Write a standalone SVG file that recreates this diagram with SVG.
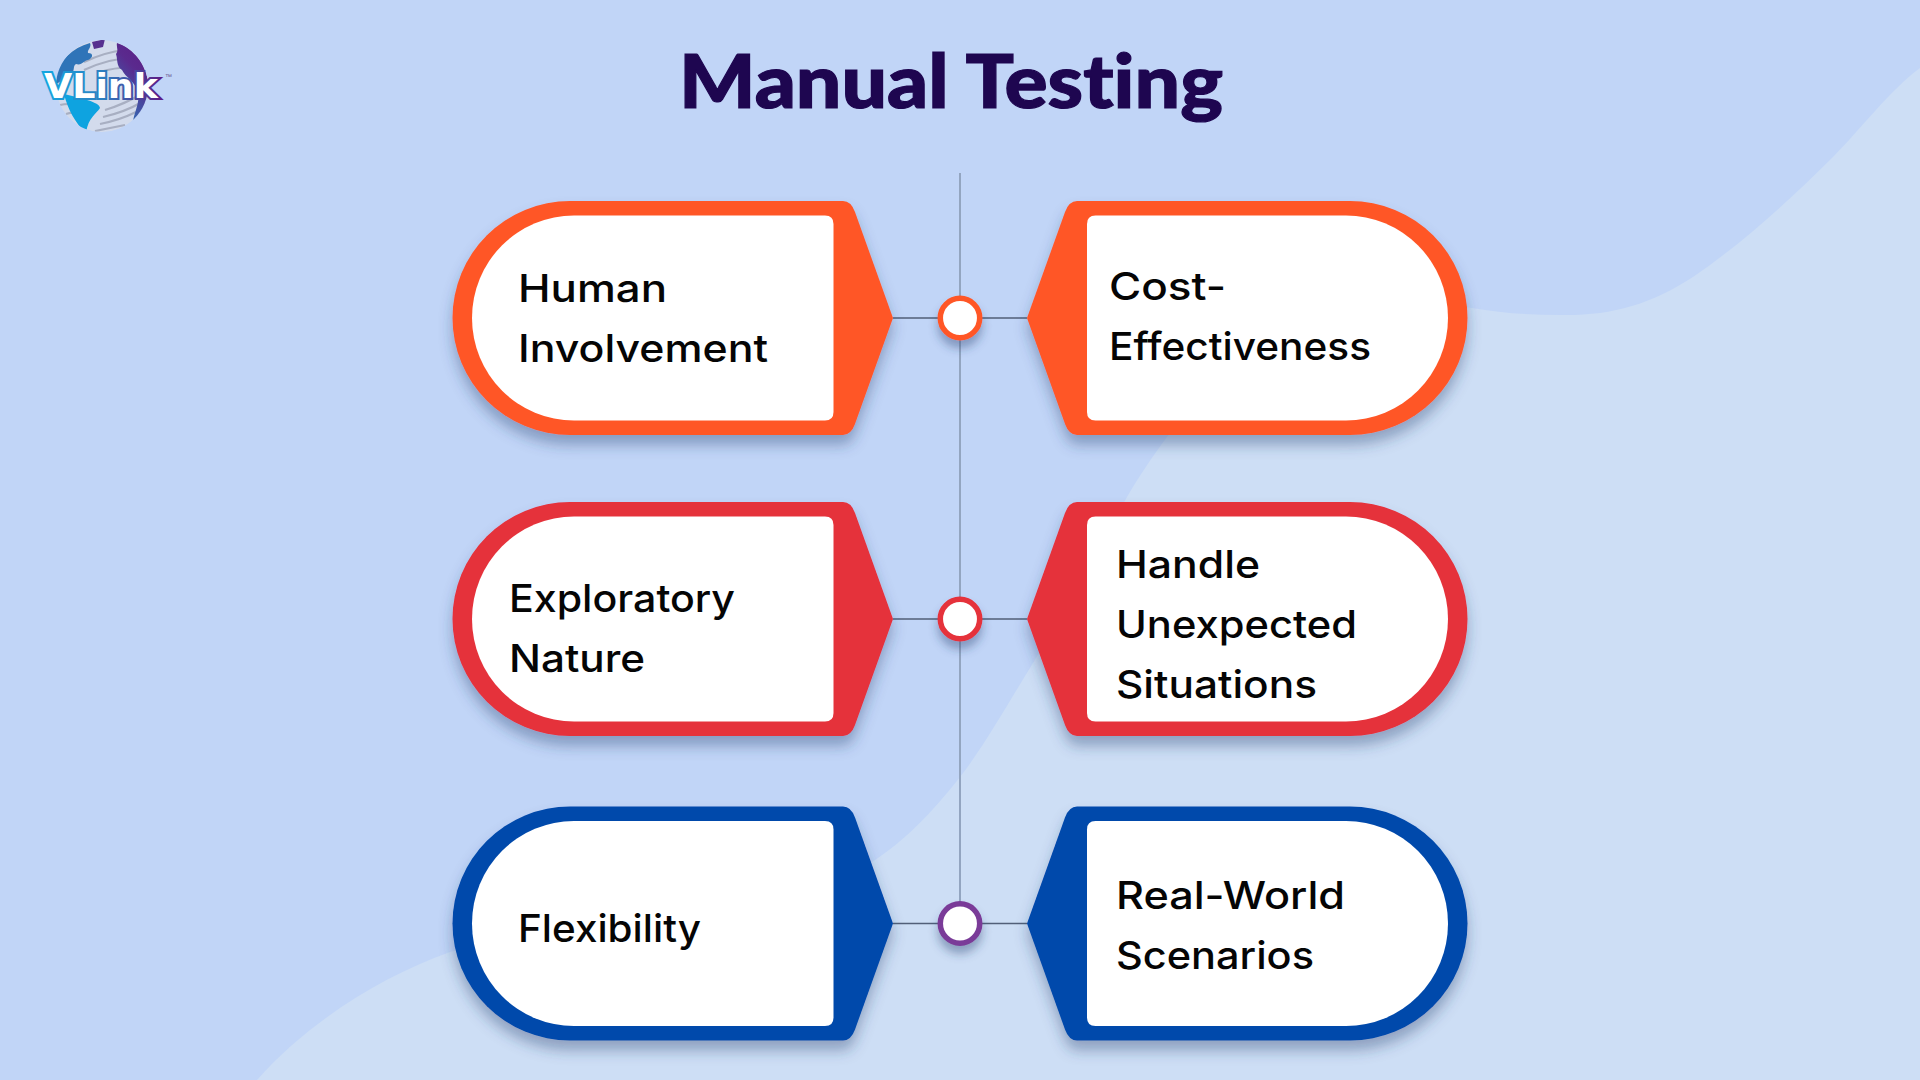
<svg xmlns="http://www.w3.org/2000/svg" width="1920" height="1080" viewBox="0 0 1920 1080">
<style>
.lbl{font-family:"Inter","Noto Sans","Liberation Sans",sans-serif;font-size:38.5px;font-weight:450;fill:#050505}
.title{font-family:"Lato","Liberation Sans",sans-serif;font-size:75px;font-weight:900;fill:#1e0650;stroke:#1e0650;stroke-width:1.2;font-variant-ligatures:none}
.orange{fill:#ff5725}.red{fill:#e5303a}.blue{fill:#0048ab}
.inner{fill:#fff}
.vline{stroke:#93a5c0;stroke-width:2;fill:none}
.hline{stroke:#525f78;stroke-width:1.5;fill:none}
.dot{fill:#fff;stroke-width:5.500}
</style>
<defs>
<filter id="sh" x="-20%" y="-20%" width="140%" height="150%"><feDropShadow dx="0" dy="10" stdDeviation="7" flood-color="#2a3f6e" flood-opacity="0.38"/></filter>
<filter id="shd" x="-60%" y="-60%" width="220%" height="240%"><feDropShadow dx="0" dy="8" stdDeviation="5" flood-color="#2a3f6e" flood-opacity="0.4"/></filter>
<path id="lo" d="M570 -117H843Q851 -117 855 -106L893 0L855 106Q851 117 843 117H570A117.500 117 0 0 1 570 -117Z"/>
<path id="li" d="M574 -102.500H825Q833.500 -102.500 833.500 -94V94Q833.500 102.500 825 102.500H574A102 102.500 0 0 1 574 -102.500Z"/>
<path id="ro" d="M1350 -117H1077Q1069 -117 1065 -106L1027 0L1065 106Q1069 117 1077 117H1350A117.500 117 0 0 0 1350 -117Z"/>
<path id="ri" d="M1346 -102.500H1095.500Q1087 -102.500 1087 -94V94Q1087 102.500 1095.500 102.500H1346A102 102.500 0 0 0 1346 -102.500Z"/>
<linearGradient id="gl" gradientUnits="userSpaceOnUse" x1="60" y1="130" x2="150" y2="50"><stop offset="0" stop-color="#00aee8"/><stop offset="0.45" stop-color="#2f74b8"/><stop offset="0.8" stop-color="#5a2a8e"/><stop offset="1" stop-color="#5c1f86"/></linearGradient>
<linearGradient id="gs" gradientUnits="userSpaceOnUse" x1="44" y1="0" x2="160" y2="0"><stop offset="0" stop-color="#14a6e0"/><stop offset="0.5" stop-color="#2d7fc0"/><stop offset="1" stop-color="#5c1f86"/></linearGradient>
<clipPath id="globe"><circle cx="102" cy="86" r="46"/></clipPath>
</defs>
<rect width="1920" height="1080" fill="#c1d5f7"/>
<path d="M1920 68C1890 90 1860 130 1833 157C1790 200 1740 245 1693 277C1650 305 1610 316 1560 315C1530 315 1500 313 1472 308C1370 295 1240 340 1167 437C1150 460 1140 475 1127 497C1095 555 1065 610 1033 663C1010 700 985 745 960 777C930 815 905 840 875 860C790 920 620 905 450 952C385 975 310 1020 257 1080H1920Z" fill="#cddef5"/>
<g id="logo">
<g clip-path="url(#globe)">
<circle cx="102" cy="86" r="46" fill="#d3dbec"/>
<path d="M84 62Q105 52 125 50M84 70Q110 58 133 58M100 72Q120 66 138 68M105 110Q125 104 145 92M103 117Q125 112 142 102M100 124Q120 120 136 112M95 131Q110 128 125 125M60 105Q68 103 78 105M66 114Q72 112 80 113" fill="none" stroke="#a8afc2" stroke-width="2.200"/>
<path d="M56 76C60 60 72 48 90 43C92 47 87 50 88 53C94 53 93 58 88 60C84 60 82 66 76 64C72 66 76 72 70 74C66 78 60 82 56 84Z" fill="#2f74b8"/>
<path d="M92 42L105 39L103 47L94 49Z" fill="#57308f"/>
<path d="M117 43C132 48 146 62 149 86C150 108 142 122 133 122C134 112 140 104 138 92C134 80 126 78 122 70C116 66 118 60 116 54C119 50 116 47 117 43Z" fill="url(#gl)"/>
<path d="M64 94C80 98 100 102 100 108C96 114 88 118 86 133C76 124 68 110 64 94Z" fill="#0ea3e0"/>
</g>
<text x="44" y="98" font-family="DejaVu Sans,Liberation Sans,sans-serif" font-size="34" font-weight="700" fill="#fff" stroke="url(#gs)" stroke-width="4" paint-order="stroke" textLength="114" lengthAdjust="spacingAndGlyphs">VLink</text>
<text x="165" y="79" font-family="Liberation Sans,sans-serif" font-size="7" fill="#6a5a90">™</text>
</g>
<text id="title" class="title" x="679" y="108" textLength="544" lengthAdjust="spacingAndGlyphs">Manual Testing</text>
<g id="connectors">
<path class="vline" d="M960 173V923"/>
<path class="hline" d="M893 318H1027M893 619H1027M893 923.500H1027"/>
</g>
<g id="node-human" transform="translate(0,318)"><use href="#lo" class="orange" filter="url(#sh)"/><use href="#li" class="inner"/><text class="lbl" x="518" y="-16" textLength="149" lengthAdjust="spacingAndGlyphs">Human</text><text class="lbl" x="518" y="44" textLength="250" lengthAdjust="spacingAndGlyphs">Involvement</text></g>
<g id="node-cost" transform="translate(0,318)"><use href="#ro" class="orange" filter="url(#sh)"/><use href="#ri" class="inner"/><text class="lbl" x="1109" y="-18" textLength="117" lengthAdjust="spacingAndGlyphs">Cost-</text><text class="lbl" x="1109" y="42" textLength="262" lengthAdjust="spacingAndGlyphs">Effectiveness</text></g>
<g id="node-exploratory" transform="translate(0,619)"><use href="#lo" class="red" filter="url(#sh)"/><use href="#li" class="inner"/><text class="lbl" x="509" y="-7" textLength="226" lengthAdjust="spacingAndGlyphs">Exploratory</text><text class="lbl" x="509" y="53" textLength="136" lengthAdjust="spacingAndGlyphs">Nature</text></g>
<g id="node-handle" transform="translate(0,619)"><use href="#ro" class="red" filter="url(#sh)"/><use href="#ri" class="inner"/><text class="lbl" x="1116" y="-41" textLength="144" lengthAdjust="spacingAndGlyphs">Handle</text><text class="lbl" x="1116" y="19" textLength="241" lengthAdjust="spacingAndGlyphs">Unexpected</text><text class="lbl" x="1116" y="79" textLength="201" lengthAdjust="spacingAndGlyphs">Situations</text></g>
<g id="node-flexibility" transform="translate(0,923.500)"><use href="#lo" class="blue" filter="url(#sh)"/><use href="#li" class="inner"/><text class="lbl" x="518" y="18" textLength="183" lengthAdjust="spacingAndGlyphs">Flexibility</text></g>
<g id="node-realworld" transform="translate(0,923.500)"><use href="#ro" class="blue" filter="url(#sh)"/><use href="#ri" class="inner"/><text class="lbl" x="1116" y="-15" textLength="229" lengthAdjust="spacingAndGlyphs">Real-World</text><text class="lbl" x="1116" y="45" textLength="198" lengthAdjust="spacingAndGlyphs">Scenarios</text></g>
<g id="dot-1"><circle class="dot" cx="960" cy="318" r="19.700" stroke="#ff5725" filter="url(#shd)"/></g>
<g id="dot-2"><circle class="dot" cx="960" cy="619" r="19.700" stroke="#e5303a" filter="url(#shd)"/></g>
<g id="dot-3"><circle class="dot" cx="960" cy="923.500" r="19.700" stroke="#7a3b98" filter="url(#shd)"/></g>
</svg>
